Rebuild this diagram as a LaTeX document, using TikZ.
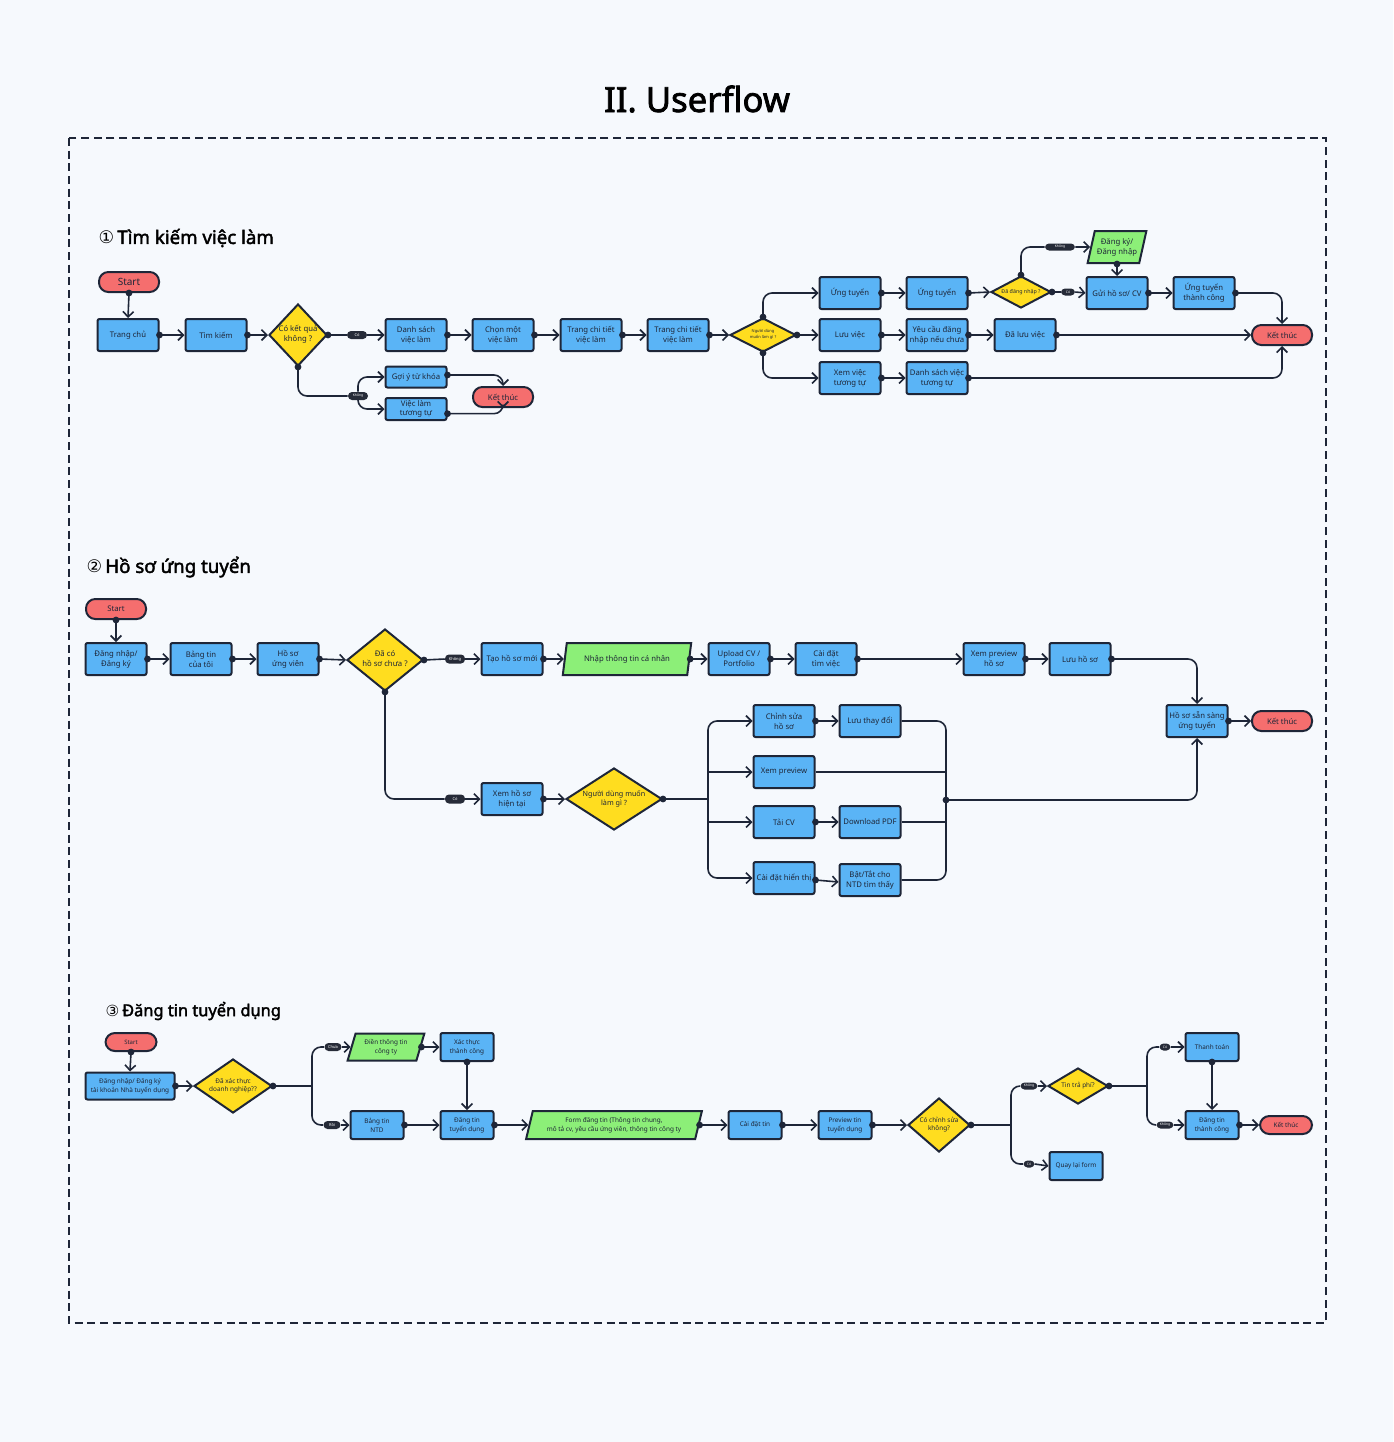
\documentclass[tikz,border=0pt]{standalone}
\usepackage{fontspec}
\setmainfont{Noto Sans}[AutoFakeBold=2.2]
\newfontfamily\symf{DejaVu Sans}
\usetikzlibrary{shapes.geometric,arrows.meta,calc}
\newcommand\pxu{*0.75pt}
\newcommand\dtx[1]{\smash{\makebox[0pt]{\raisebox{-0.25em}{\begin{tabular}{@{}c@{}}#1\end{tabular}}}}}
\definecolor{bgc}{HTML}{F6F9FD}
\definecolor{ink}{HTML}{1E2638}
\definecolor{boxb}{HTML}{5AB4F6}
\definecolor{yel}{HTML}{FFDD1F}
\definecolor{redc}{HTML}{F56E6E}
\definecolor{grn}{HTML}{8CEF78}
\definecolor{pillc}{HTML}{262B38}
\tikzset{
 bx/.style={draw=ink, line width=1.5pt, fill=boxb, rounded corners=1.5pt, minimum width=61\pxu, minimum height=32\pxu, inner sep=0.5pt, align=center, text=ink, font=\fontsize{5.8pt}{7.5pt}\selectfont},
 sbx/.style={bx, minimum width=53\pxu, minimum height=28\pxu, font=\fontsize{4.8pt}{6.6pt}\selectfont},
 dia/.style={diamond, draw=ink, line width=1.5pt, fill=yel, inner sep=0pt, text=ink, font=\fontsize{5.8pt}{7.5pt}\selectfont},
 term/.style={draw=ink, line width=1.5pt, fill=redc, rounded corners=7pt, minimum width=60\pxu, minimum height=20\pxu, inner sep=0pt, text=ink, font=\fontsize{5.8pt}{7pt}\selectfont},
 para/.style={trapezium, trapezium left angle=70, trapezium right angle=110, trapezium stretches=true, draw=ink, line width=1.5pt, fill=grn, inner sep=0pt, align=center, text=ink, font=\fontsize{5.8pt}{7.5pt}\selectfont},
 pill/.style={fill=pillc, rounded corners=3pt, text=white, font=\fontsize{3pt}{3pt}\selectfont, inner sep=0.6pt, minimum height=8\pxu, minimum width=18\pxu},
 conn/.style={draw=ink, line width=1.2pt, rounded corners=9\pxu},
 da/.style={conn, {Circle[length=5pt]}-{Straight Barb[length=4pt,width=8pt,line width=1.2pt]}, shorten <=-2.5pt},
 dn/.style={conn, {Circle[length=5pt]}-, shorten <=-2.5pt},
 ar/.style={conn, -{Straight Barb[length=4pt,width=8pt,line width=1.2pt]}},
 ln/.style={conn},
 hd/.style={anchor=west, text=black, font=\fontsize{14pt}{16pt}\selectfont\bfseries},
}
\begin{document}
\begin{tikzpicture}[x=0.75pt,y=-0.75pt]
\useasboundingbox (0,0) rectangle (1393,1442);
\fill[bgc] (0,0) rectangle (1393,1442);
\draw[ink, line width=1.5pt, dash pattern=on 6pt off 3.5pt] (69,138) rectangle (1326,1323);

\node[text=black, font=\fontsize{26pt}{30pt}\selectfont\bfseries] (title) at (697,99) {II. Userflow};

% ---------------- Section 1 ----------------
\node[hd] (h1) at (94,238) {{\symf\mdseries\fontsize{13pt}{15pt}\selectfont ①}\,Tìm kiếm việc làm};

\node[term, font=\fontsize{7.5pt}{9pt}\selectfont] (s1) at (129,282) {Start};
\node[bx] (trang) at (128,335) {Trang chủ};
\node[bx] (tk) at (216,335) {Tìm kiếm};
\node[dia, minimum width=58\pxu, minimum height=62\pxu] (d11) at (298,335) {\dtx{Có kết quả\\không ?}};
\node[pill, minimum width=20\pxu] (pc1) at (357,335) {Có};
\node[bx] (dsvl) at (416,335) {Danh sách\\việc làm};
\node[bx] (cmvl) at (503,335) {Chọn một\\việc làm};
\node[bx] (tct1) at (591,335) {Trang chi tiết\\việc làm};
\node[bx] (tct2) at (678,335) {Trang chi tiết\\việc làm};
\node[dia, minimum width=66\pxu, minimum height=34\pxu, font=\fontsize{3pt}{4pt}\selectfont] (d12) at (763,335) {\dtx{Người dùng\\muốn làm gì ?}};
\node[bx] (ut1) at (850,293) {Ứng tuyển};
\node[bx] (lv) at (850,335) {Lưu việc};
\node[bx] (xv) at (850,378) {Xem việc\\tương tự};
\node[bx] (ut2) at (937,293) {Ứng tuyển};
\node[bx] (yc) at (937,335) {Yêu cầu đăng\\nhập nếu chưa};
\node[bx] (dsv) at (937,378) {Danh sách việc\\tương tự};
\node[dia, minimum width=60\pxu, minimum height=32\pxu, font=\fontsize{4pt}{5pt}\selectfont] (d13) at (1021,292) {\dtx{Đã đăng nhập ?}};
\node[bx] (dlv) at (1025,335) {Đã lưu việc};
\node[pill, minimum width=30\pxu, minimum height=7\pxu, font=\fontsize{2.5pt}{3pt}\selectfont] (pk13) at (1060,247) {Không};
\node[para, minimum width=59\pxu, minimum height=32\pxu] (dk) at (1117,247) {Đăng ký/\\Đăng nhập};
\node[pill, minimum width=14\pxu, minimum height=7\pxu, font=\fontsize{2.5pt}{3pt}\selectfont] (pc13) at (1068,292) {Có};
\node[bx] (gui) at (1117,293) {Gửi hồ sơ/ CV};
\node[bx] (utc) at (1204,293) {Ứng tuyển\\thành công};
\node[term] (kt1) at (1282,335) {Kết thúc};
\node[pill, minimum width=20\pxu, font=\fontsize{2.5pt}{3pt}\selectfont] (pk11) at (358,396) {Không};
\node[bx, minimum height=21\pxu] (goi) at (416,377) {Gợi ý từ khóa};
\node[bx, minimum height=22\pxu, font=\fontsize{5.8pt}{6.5pt}\selectfont] (vltt) at (416,409) {Việc làm\\tương tự};
\node[term] (kt2) at (503,397) {Kết thúc};

\draw[da] (s1.south) -- (trang.north);
\draw[da] (trang.east) -- (tk.west);
\draw[da] (tk.east) -- (d11.west);
\draw[dn] (d11.east) -- (pc1.west);
\draw[ar] (pc1.east) -- (dsvl.west);
\draw[da] (dsvl.east) -- (cmvl.west);
\draw[da] (cmvl.east) -- (tct1.west);
\draw[da] (tct1.east) -- (tct2.west);
\draw[da] (tct2.east) -- (d12.west);
\draw[da] (d12.north) |- (ut1.west);
\draw[da] (d12.east) -- (lv.west);
\draw[da] (d12.south) |- (xv.west);
\draw[da] (ut1.east) -- (ut2.west);
\draw[da] (ut2.east) -- (d13.west);
\draw[da] (lv.east) -- (yc.west);
\draw[da] (yc.east) -- (dlv.west);
\draw[da] (xv.east) -- (dsv.west);
\draw[dn] (d13.north) |- (pk13.west);
\draw[ar] (pk13.east) -- (dk.west);
\draw[dn] (d13.east) -- (pc13.west);
\draw[ar] (pc13.east) -- (gui.west);
\draw[da] (dk.south) -- (gui.north);
\draw[da] (gui.east) -- (utc.west);
\draw[da] (utc.east) -| (kt1.north);
\draw[da] (dlv.east) -- (kt1.west);
\draw[da] (dsv.east) -| (kt1.south);
\draw[dn] (d11.south) |- (pk11.west);
\draw[ar] (pk11.north) |- (goi.west);
\draw[ar] (pk11.south) |- (vltt.west);
\draw[da] ([yshift=1.5pt]goi.east) -| (kt2.north);
\draw[da] ([yshift=-3.5pt]vltt.east) -| (kt2.south);

% ---------------- Section 2 ----------------
\node[hd] (h2) at (82,567) {{\symf\mdseries\fontsize{13pt}{15pt}\selectfont ②}\,Hồ sơ ứng tuyển};

\node[term] (s2) at (116,609) {Start};
\node[bx] (dnk) at (116,659) {Đăng nhập/\\Đăng ký};
\node[bx] (bt) at (201,659) {Bảng tin\\của tôi};
\node[bx] (hs) at (288,659) {Hồ sơ\\ứng viên};
\node[dia, minimum width=76\pxu, minimum height=62\pxu] (d21) at (385,660) {\dtx{Đã có\\hồ sơ chưa ?}};
\node[pill, minimum width=20\pxu, minimum height=9\pxu] (pk21) at (455,659) {Không};
\node[bx] (tao) at (512,659) {Tạo hồ sơ mới};
\node[para, minimum width=129\pxu, minimum height=32\pxu] (nhap) at (627,659) {Nhập thông tin cá nhân};
\node[bx] (up) at (739,659) {Upload CV /\\Portfolio};
\node[bx] (cd) at (826,659) {Cài đặt\\tìm việc};
\node[bx] (xph) at (994,659) {Xem preview\\hồ sơ};
\node[bx] (lhs) at (1080,659) {Lưu hồ sơ};
\node[bx] (hss) at (1197,721) {Hồ sơ sẵn sàng\\ứng tuyển};
\node[term] (kt3) at (1282,721) {Kết thúc};
\node[pill, minimum width=20\pxu, minimum height=9\pxu] (pc21) at (455,799) {Có};
\node[bx] (xhs) at (512,799) {Xem hồ sơ\\hiện tại};
\node[dia, minimum width=96\pxu, minimum height=62\pxu, font=\fontsize{5.4pt}{7pt}\selectfont] (d22) at (614,799) {\dtx{Người dùng muốn\\làm gì ?}};
\node[bx] (cs) at (784,721) {Chỉnh sửa\\hồ sơ};
\node[bx] (ltd) at (870,721) {Lưu thay đổi};
\node[bx] (xp) at (784,772) {Xem preview};
\node[bx] (tai) at (784,822) {Tải CV};
\node[bx] (dl) at (870,822) {Download PDF};
\node[bx] (cdh) at (784,878) {Cài đặt hiển thị};
\node[bx] (bat) at (870,880) {Bật/Tắt cho\\NTD tìm thấy};
\coordinate (busL) at (708,799);
\coordinate (busR) at (946,800);

\draw[da] (s2.south) -- (dnk.north);
\draw[da] (dnk.east) -- (bt.west);
\draw[da] (bt.east) -- (hs.west);
\draw[da] (hs.east) -- (d21.west);
\draw[dn] (d21.east) -- (pk21.west);
\draw[ar] (pk21.east) -- (tao.west);
\draw[da] (tao.east) -- (nhap.west);
\draw[da] (nhap.east) -- (up.west);
\draw[da] (up.east) -- (cd.west);
\draw[da] (cd.east) -- (xph.west);
\draw[da] (xph.east) -- (lhs.west);
\draw[da] (lhs.east) -| (hss.north);
\draw[da] (hss.east) -- (kt3.west);
\draw[dn] (d21.south) |- (pc21.west);
\draw[ar] (pc21.east) -- (xhs.west);
\draw[da] (xhs.east) -- (d22.west);
\draw[dn] (d22.east) -- (busL);
\draw[ar] (busL) |- (cs.west);
\draw[ar] (busL |- xp.west) -- (xp.west);
\draw[ar] (busL |- tai.west) -- (tai.west);
\draw[ar] (busL) |- (cdh.west);
\draw[da] (cs.east) -- (ltd.west);
\draw[da] (tai.east) -- (dl.west);
\draw[da] ([yshift=-1.5pt]cdh.east) -- ([yshift=-1.5pt]bat.west);
\draw[ln] (ltd.east) -| (busR);
\draw[ln] (xp.east) -- (busR |- xp.east);
\draw[ln] (dl.east) -- (busR |- dl.east);
\draw[ln] (bat.east) -| (busR);
\draw[da] (busR) -| (hss.south);

% ---------------- Section 3 ----------------
\node[hd, font=\fontsize{12.3pt}{14pt}\selectfont\bfseries] (h3) at (101,1011) {{\symf\mdseries\fontsize{11.5pt}{14pt}\selectfont ③}\,Đăng tin tuyển dụng};

\node[term, minimum width=51\pxu, minimum height=18\pxu, font=\fontsize{4.5pt}{5pt}\selectfont] (s3) at (131,1042) {Start};
\node[sbx, minimum width=89\pxu, minimum height=27\pxu] (dn3) at (130,1086) {Đăng nhập/ Đăng ký\\tài khoản Nhà tuyển dụng};
\node[dia, minimum width=78\pxu, minimum height=54\pxu, font=\fontsize{4.8pt}{6.3pt}\selectfont] (d31) at (233,1086) {\dtx{Đã xác thực\\doanh nghiệp??}};
\coordinate (busA) at (312,1086);
\node[pill, minimum width=17\pxu, minimum height=8\pxu] (pch) at (333,1047) {Chưa};
\node[para, minimum width=77\pxu, minimum height=27\pxu, font=\fontsize{4.8pt}{6.6pt}\selectfont] (dien) at (386,1047) {Điền thông tin\\công ty};
\node[sbx] (xt) at (467,1047) {Xác thực\\thành công};
\node[pill, minimum width=17\pxu, minimum height=8\pxu] (pr) at (332,1125) {Rồi};
\node[sbx] (bng) at (377,1125) {Bảng tin\\NTD};
\node[sbx] (dt) at (467,1125) {Đăng tin\\tuyển dụng};
\node[para, minimum width=176\pxu, minimum height=28\pxu, font=\fontsize{4.8pt}{6.6pt}\selectfont] (form) at (614,1125) {Form đăng tin (Thông tin chung,\\mô tả cv, yêu cầu ứng viên, thông tin công ty};
\node[sbx] (cdt) at (755,1125) {Cài đặt tin};
\node[sbx] (prv) at (845,1125) {Preview tin\\tuyển dụng};
\node[dia, minimum width=62\pxu, minimum height=54\pxu, font=\fontsize{4.8pt}{6.3pt}\selectfont] (d32) at (939,1125) {\dtx{Có chỉnh sửa\\không?}};
\coordinate (busB) at (1011,1125);
\node[pill, minimum width=17\pxu, minimum height=7\pxu, font=\fontsize{2.5pt}{3pt}\selectfont] (pk31) at (1029,1086) {Không};
\node[dia, minimum width=60\pxu, minimum height=36\pxu, font=\fontsize{4.8pt}{6.3pt}\selectfont] (ttp) at (1078,1086) {\dtx{Tin trả phí?}};
\node[pill, minimum width=11\pxu, minimum height=7\pxu, font=\fontsize{2.5pt}{3pt}\selectfont] (pc31) at (1029,1164) {Có};
\node[sbx] (qlf) at (1076,1166) {Quay lại form};
\coordinate (busC) at (1147,1086);
\node[pill, minimum width=11\pxu, minimum height=7\pxu, font=\fontsize{2.5pt}{3pt}\selectfont] (pc32) at (1165,1047) {Có};
\node[sbx] (tt) at (1212,1047) {Thanh toán};
\node[pill, minimum width=17\pxu, minimum height=7\pxu, font=\fontsize{2.5pt}{3pt}\selectfont] (pk32) at (1165,1125) {Không};
\node[sbx] (dttc) at (1212,1125) {Đăng tin\\thành công};
\node[term, minimum width=52\pxu, minimum height=18\pxu, font=\fontsize{4.8pt}{5pt}\selectfont] (kt4) at (1286,1125) {Kết thúc};

\draw[da] (s3.south) -- (dn3.north);
\draw[da] (dn3.east) -- (d31.west);
\draw[dn] (d31.east) -- (busA);
\draw[ln] (busA) |- (pch.west);
\draw[ar] (pch.east) -- (dien.west);
\draw[ln] (busA) |- (pr.west);
\draw[ar] (pr.east) -- (bng.west);
\draw[da] (dien.east) -- (xt.west);
\draw[da] (xt.south) -- (dt.north);
\draw[da] (bng.east) -- (dt.west);
\draw[da] (dt.east) -- (form.west);
\draw[da] (form.east) -- (cdt.west);
\draw[da] (cdt.east) -- (prv.west);
\draw[da] (prv.east) -- (d32.west);
\draw[dn] (d32.east) -- (busB);
\draw[ln] (busB) |- (pk31.west);
\draw[ar] (pk31.east) -- (ttp.west);
\draw[ln] (busB) |- (pc31.west);
\draw[ar] (pc31.east) -- (qlf.west);
\draw[dn] (ttp.east) -- (busC);
\draw[ln] (busC) |- (pc32.west);
\draw[ar] (pc32.east) -- (tt.west);
\draw[ln] (busC) |- (pk32.west);
\draw[ar] (pk32.east) -- (dttc.west);
\draw[da] (tt.south) -- (dttc.north);
\draw[da] (dttc.east) -- (kt4.west);
\end{tikzpicture}
\end{document}
